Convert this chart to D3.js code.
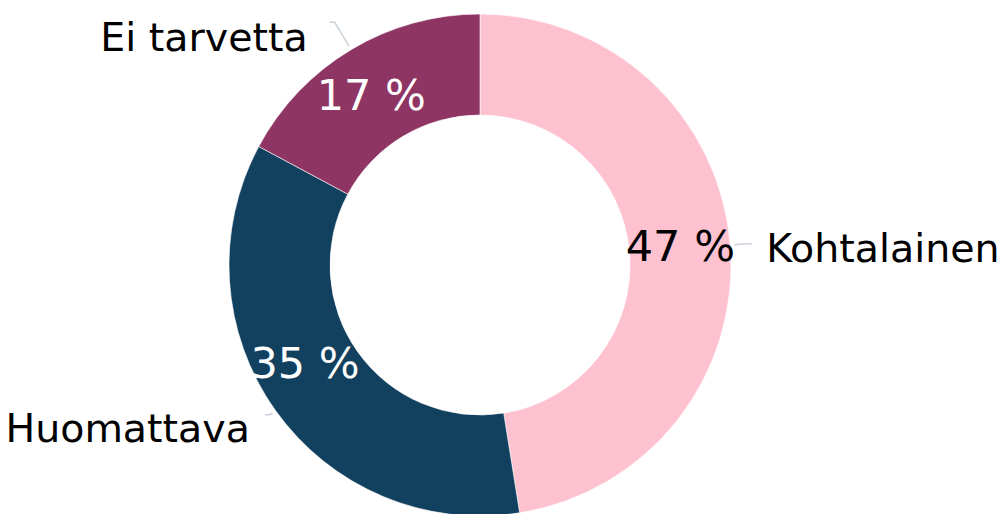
<!DOCTYPE html>
<html>
<head>
<meta charset="utf-8">
<script src="https://cdn.jsdelivr.net/npm/d3@7"></script>
<style>
  body { margin: 0; background: #fff; }
  svg { display: block; }
</style>
</head>
<body>
<div id="chart"></div>
<script>
// data
const categories = ['Kohtalainen', 'Huomattava', 'Ei tarvetta'];
const values = [47, 35, 17];
const colors = ['#fec1d0', '#12405f', '#8f3564'];
const valueTextColors = ['#000', '#fff', '#fff'];

// label placement tweaks (layout only)
const valueNudge = [[1, -4], [-12, -18], [-6, 1]];
const leaderR = [268, 258, 283];
const labelNudge = [[14, 4], [-15, 13], [-22, 15]];

const width = 1006;
const height = 514;
const cx = 480, cy = 265;
const outerR = 251, innerR = 150;

const svg = d3.select('#chart')
  .append('svg')
  .attr('width', width)
  .attr('height', height)
  .style('font-family', 'DejaVu Sans, Verdana, sans-serif');

const g = svg.append('g').attr('transform', `translate(${cx},${cy})`);

const pie = d3.pie().sort(null).value(d => d);
const arcs = pie(values);

const arc = d3.arc().innerRadius(innerR).outerRadius(outerR);
const midArc = d3.arc().innerRadius(200).outerRadius(200);

// slices
g.selectAll('path.slice')
  .data(arcs)
  .enter()
  .append('path')
  .attr('class', 'slice')
  .attr('d', arc)
  .attr('fill', (d, i) => colors[i])
  .attr('stroke', '#fff')
  .attr('stroke-width', 0.6);

// value labels
g.selectAll('text.val')
  .data(arcs)
  .enter()
  .append('text')
  .attr('class', 'val')
  .attr('transform', (d, i) => {
    const c = midArc.centroid(d);
    return `translate(${c[0] + valueNudge[i][0]},${c[1] + valueNudge[i][1]})`;
  })
  .attr('text-anchor', 'middle')
  .attr('dy', '0.36em')
  .attr('font-size', 43)
  .attr('fill', (d, i) => valueTextColors[i])
  .text(d => d.data + ' %');

// leader lines + category labels
const mid = d => (d.startAngle + d.endAngle) / 2;
const pt = (a, r) => [Math.sin(a) * r, -Math.cos(a) * r];

arcs.forEach((d, i) => {
  const a = mid(d);
  const right = Math.sin(a) > 0;
  const p1 = pt(a, 255);
  const p2 = pt(a, leaderR[i]);
  const p3 = [p2[0] + (right ? 5 : -5), p2[1]];
  g.append('polyline')
    .attr('points', [p1, p2, p3].map(p => p.join(',')).join(' '))
    .attr('fill', 'none')
    .attr('stroke', '#c9d1d9')
    .attr('stroke-width', 1.5);
  g.append('text')
    .attr('x', p3[0] + labelNudge[i][0])
    .attr('y', p3[1] + labelNudge[i][1])
    .attr('dy', '0.36em')
    .attr('text-anchor', right ? 'start' : 'end')
    .attr('font-size', 39.5)
    .attr('fill', '#000')
    .text(categories[i]);
});
</script>
</body>
</html>
